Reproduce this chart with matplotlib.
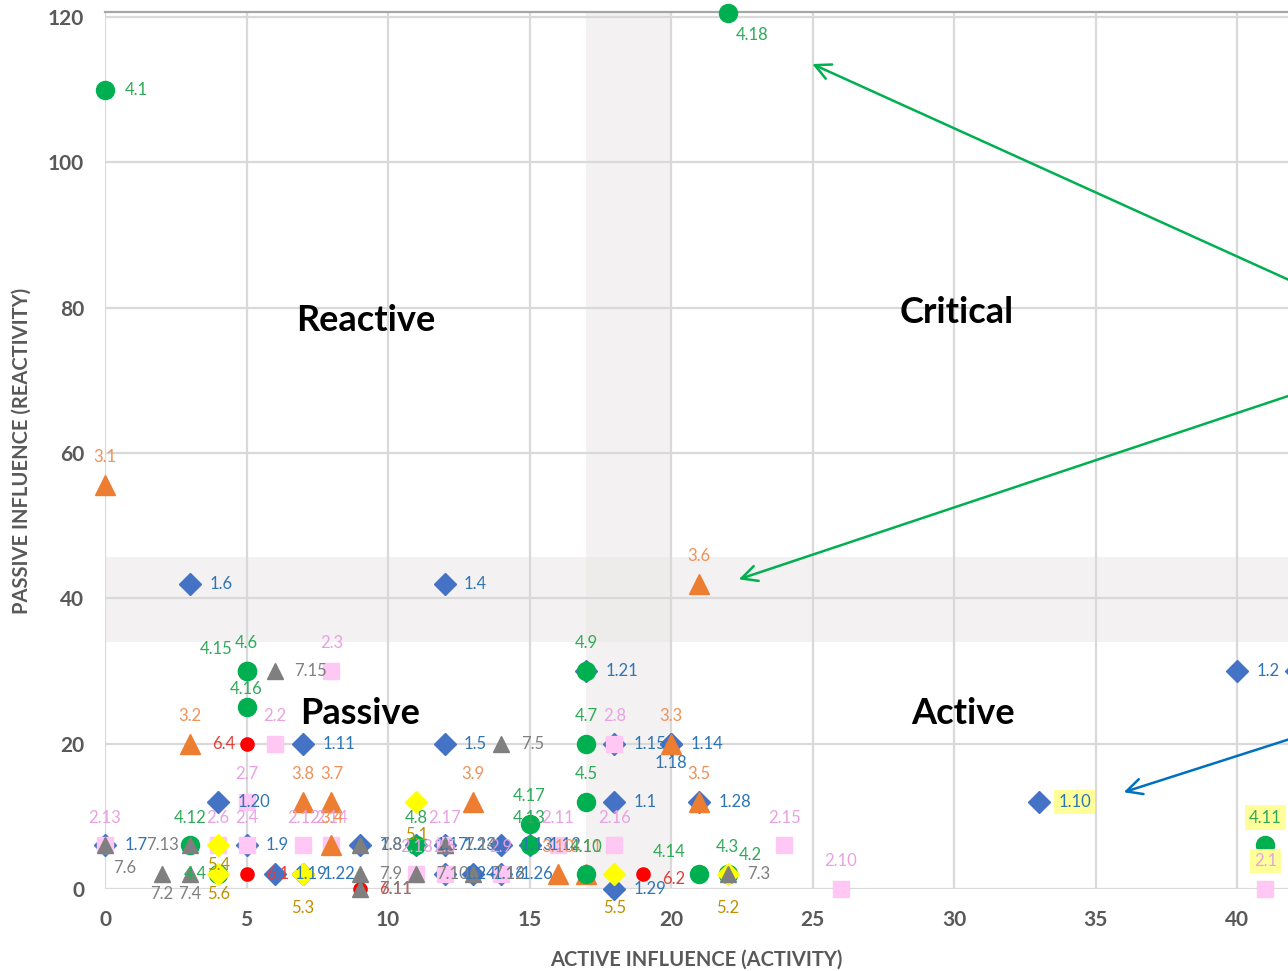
import matplotlib.pyplot as plt

plt.rcParams['font.family'] = ['Lato', 'DejaVu Sans']

# series 1 - blue diamonds
s1_x = [18, 40, 42.1, 12, 12, 3, 0, 9, 5, 33, 7, 15, 14, 20, 18, 13, 11, 20, 6, 4, 17, 7, 12, 12, 14, 21, 18]
s1_y = [12, 30, 30, 42, 20, 42, 6, 6, 6, 12, 20, 6, 6, 20, 20, 2, 6, 20, 2, 12, 30, 2, 6, 2, 2, 12, 0]
s1_lab = ['1.1', '1.2', '1.3', '1.4', '1.5', '1.6', '1.7', '1.8', '1.9', '1.10', '1.11', '1.12', '1.13',
          '1.14', '1.15', '1.16', '1.17', '1.18', '1.19', '1.20', '1.21', '1.22', '1.23', '1.24', '1.26',
          '1.28', '1.29']

# series 2 - pink squares
s2_x = [41, 6, 8, 5, 12, 4, 5, 18, 14, 26, 16, 7, 0, 8, 24, 18, 12, 11]
s2_y = [0, 20, 30, 6, 2, 6, 12, 20, 2, 0, 6, 6, 6, 6, 6, 6, 6, 2]
s2_lab = ['2.1', '2.2', '2.3', '2.4', '2.5', '2.6', '2.7', '2.8', '2.9', '2.10', '2.11', '2.12', '2.13',
          '2.14', '2.15', '2.16', '2.17', '2.18']

# series 3 - orange triangles
s3_x = [0, 3, 20, 8, 21, 21, 8, 7, 13, 16, 17]
s3_y = [55.6, 20, 20, 6, 12, 42, 12, 12, 12, 2, 2]
s3_lab = ['3.1', '3.2', '3.3', '3.4', '3.5', '3.6', '3.7', '3.8', '3.9', '3.10', '3.11']

# series 4 - green circles
s4_x = [0, 22, 22, 4, 17, 5, 17, 11, 17, 17, 41, 3, 15, 21, 5, 5, 15, 22]
s4_y = [110, 2, 2, 2, 12, 30, 20, 6, 30, 2, 6, 6, 6, 2, 30, 25, 9, 120.6]
s4_lab = ['4.1', '4.2', '4.3', '4.4', '4.5', '4.6', '4.7', '4.8', '4.9', '4.10', '4.11', '4.12', '4.13',
          '4.14', '4.15', '4.16', '4.17', '4.18']

# series 5 - yellow diamonds
s5_x = [11, 22, 7, 4, 18, 4]
s5_y = [12, 2, 2, 6, 2, 2]
s5_lab = ['5.1', '5.2', '5.3', '5.4', '5.5', '5.6']

# series 6 - red dots
s6_x = [5, 19, 5, 9]
s6_y = [2, 2, 20, 0]
s6_lab = ['6.1', '6.2', '6.4', '6.11']

# series 7 - grey triangles
s7_x = [2, 22, 3, 14, 0, 9, 9, 11, 9, 13, 3, 12, 6]
s7_y = [2, 2, 2, 20, 6, 6, 2, 2, 0, 2, 6, 6, 30]
s7_lab = ['7.2', '7.3', '7.4', '7.5', '7.6', '7.8', '7.9', '7.10', '7.11', '7.12', '7.13', '7.14', '7.15']

quadrants = ['Reactive', 'Critical', 'Passive', 'Active']
quad_x = [9.2, 30.1, 9.0, 30.3]
quad_y = [78.3, 79.3, 24.2, 24.2]

highlighted = ['1.10', '4.11', '2.1']

# label offsets in points: dx, dy, ha, va
pos = {
    'r': (14, 0, 'left', 'center'),
    'rb': (14, -3, 'left', 'center'),
    'l': (-8, 0, 'right', 'center'),
    'a': (0, 20, 'center', 'center'),
    'as': (0, 13, 'center', 'center'),
    'al': (-10, 16, 'right', 'center'),
    'ar': (8, 14, 'left', 'center'),
    'b': (0, -14, 'center', 'center'),
    'bb': (0, -24, 'center', 'center'),
    'br': (6, -16, 'left', 'center'),
}
overrides = {'1.18': 'b', '4.1': 'r', '4.18': 'br', '4.15': 'al', '4.4': 'l', '4.2': 'ar',
             '4.14': 'al', '4.16': 'as', '6.4': 'l', '7.13': 'l', '7.6': 'br', '7.2': 'b', '7.4': 'b',
             '5.1': 'bb', '5.3': 'bb', '5.5': 'bb', '5.2': 'bb', '6.2': 'rb'}

series = [
    (s1_x, s1_y, s1_lab, 'D', 11, '#4472C4', '#2E75B6', 'r'),
    (s2_x, s2_y, s2_lab, 's', 12, '#FFC8F4', '#E8A2E2', 'a'),
    (s3_x, s3_y, s3_lab, '^', 14, '#ED7D31', '#F0915A', 'a'),
    (s4_x, s4_y, s4_lab, 'o', 13, '#00B050', '#2EAA58', 'a'),
    (s5_x, s5_y, s5_lab, 'D', 11, '#FFFF00', '#C09000', 'b'),
    (s6_x, s6_y, s6_lab, 'o', 9.5, '#FF0000', '#E0403A', 'r'),
    (s7_x, s7_y, s7_lab, '^', 11, '#7F7F7F', '#7F7F7F', 'r'),
]

fig = plt.figure(figsize=(12.88, 9.71), dpi=100)
ax = fig.add_axes([105 / 1288, 82 / 971, 1 - 105 / 1288, 877 / 971])
ax.set_xlim(0, 41.8)
ax.set_ylim(0, 120.7)

# shaded bands
ax.axhspan(34, 45.7, color='#ece8e8', alpha=0.6, zorder=0, lw=0)
ax.axvspan(17, 20, color='#ece8e8', alpha=0.6, zorder=0, lw=0)

ax.set_xticks(range(0, 45, 5))
ax.set_yticks(range(0, 121, 20))
ax.grid(True, color='#d9d9d9', lw=1.6, zorder=1)
for s in ['left', 'right', 'bottom']:
    ax.spines[s].set_visible(False)
ax.spines['top'].set_color('#a6a6a6')
ax.spines['top'].set_linewidth(1.6)
ax.tick_params(length=0, pad=15, labelsize=15, labelcolor='#595959')
for t in ax.get_xticklabels() + ax.get_yticklabels():
    t.set_fontweight('bold')

for i, (xs, ys, labs, m, ms, col, tcol, default) in enumerate(series):
    ax.plot(xs, ys, ls='none', marker=m, ms=ms, color=col, mec=col, clip_on=False, zorder=3 + i)
    for x, y, lab in zip(xs, ys, labs):
        dx, dy, ha, va = pos[overrides.get(lab, default)]
        bbox = None
        if lab in highlighted:
            bbox = dict(boxstyle='square,pad=0.25', fc='#FFFF99', ec='none')
        ax.annotate(lab, (x, y), xytext=(dx, dy), textcoords='offset points', ha=ha, va=va,
                    fontsize=12, color=tcol, zorder=12, bbox=bbox, annotation_clip=False)

for q, x, y in zip(quadrants, quad_x, quad_y):
    ax.text(x, y, q, fontsize=26, fontweight='bold', color='black', ha='center', va='center', zorder=15)

# arrows pointing at items of interest
arrows = [((24.9, 113.7), (44.0, 80.0), '#00B050'),
          ((22.3, 42.5), (44.0, 70.7), '#00B050'),
          ((35.9, 13.2), (44.0, 23.3), '#0070C0')]
for head, tail, col in arrows:
    ax.annotate('', xy=head, xytext=tail,
                arrowprops=dict(arrowstyle='->', color=col, lw=1.8, mutation_scale=28),
                annotation_clip=False, zorder=16)

ax.set_xlabel('ACTIVE INFLUENCE (ACTIVITY)', fontsize=14.5, fontweight='bold', color='#595959', labelpad=14)
ax.set_ylabel('PASSIVE INFLUENCE (REACTIVITY)', fontsize=14.5, fontweight='bold', color='#595959', labelpad=12)

fig.savefig('out.png', dpi=100)
